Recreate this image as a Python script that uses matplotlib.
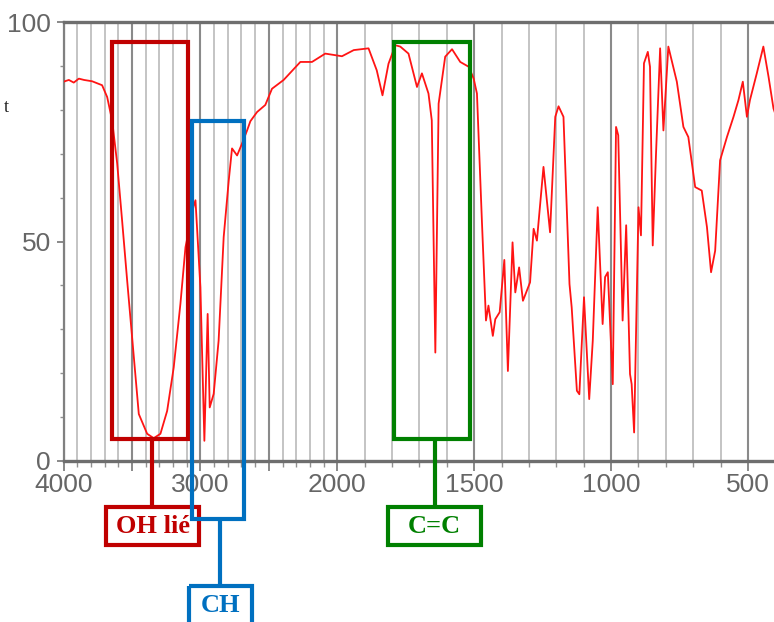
import numpy as np
import matplotlib
matplotlib.use("Agg")
import matplotlib.pyplot as plt
from matplotlib.patches import Rectangle
from matplotlib.lines import Line2D
from matplotlib.ticker import FixedLocator, FixedFormatter

# ---- data ----
wavenumber = [4000, 3961, 3925, 3888, 3850, 3791, 3718, 3681, 3645, 3608, 3572, 3535,
              3499, 3450, 3389, 3341, 3292, 3243, 3195, 3146, 3109, 3085, 3050, 3036,
              3000, 2971, 2947, 2932, 2903, 2867, 2830, 2793, 2769, 2732, 2696, 2659,
              2635, 2586, 2526, 2477, 2392, 2270, 2185, 2088, 1983, 1940, 1886, 1856,
              1835, 1813, 1788, 1770, 1740, 1709, 1691, 1667, 1655, 1642, 1630, 1606,
              1581, 1551, 1520, 1502, 1490, 1472, 1457, 1448, 1432, 1423, 1407, 1390,
              1377, 1360, 1350, 1336, 1322, 1296, 1283, 1271, 1247, 1223, 1204, 1192,
              1174, 1152, 1144, 1125, 1116, 1099, 1080, 1067, 1049, 1031, 1022, 1012,
              994, 982, 974, 958, 945, 931, 925, 916, 900, 891, 880, 866, 858, 848,
              836, 821, 809, 791, 760, 736, 718, 693, 669, 650, 635, 620, 602, 577,
              553, 535, 519, 504, 493, 468, 444, 425, 407, 400]
transmittance = [86.4, 86.8, 86.2, 87.1, 86.8, 86.5, 85.6, 82.9, 77.6, 67.8, 54.8, 41.1,
                 28.2, 10.7, 6.2, 5.2, 6.2, 11.4, 21.3, 35.8, 48.7, 52.5, 58.0, 59.4,
                 39.6, 4.6, 33.5, 12.2, 15.3, 27.4, 51.0, 63.9, 71.2, 69.6, 72.3, 75.3,
                 77.4, 79.5, 81.1, 84.8, 86.8, 90.9, 90.9, 92.8, 92.2, 93.6, 94.0, 89.0,
                 83.3, 90.5, 94.7, 94.4, 92.8, 85.2, 88.3, 83.7, 77.6, 24.7, 81.4, 92.1,
                 93.8, 90.9, 89.8, 87.1, 83.7, 54.8, 32.0, 35.4, 28.5, 32.3, 33.9, 45.8,
                 20.5, 49.8, 38.4, 44.1, 36.5, 40.7, 52.9, 50.2, 67.0, 52.1, 78.4, 80.8,
                 78.4, 40.3, 35.0, 16.0, 15.2, 37.3, 14.1, 27.4, 57.8, 31.2, 41.9, 43.0,
                 17.5, 76.1, 74.2, 32.0, 53.7, 19.8, 17.5, 6.5, 57.8, 51.4, 90.6, 93.2, 89.8, 49.1,
                 70.0, 94.0, 75.3, 94.4, 86.4, 76.1, 73.8, 62.4, 61.6, 53.3, 43.0, 47.9, 68.5, 73.8,
                 78.4, 82.2, 86.4, 78.4, 82.2, 88.3, 94.4, 87.5, 80.3, 79.0]

x_tick_values = [4000, 3500, 3000, 2500, 2000, 1500, 1000, 500]
x_tick_labels = ["4000", "", "3000", "", "2000", "1500", "1000", "500"]
y_tick_values = [0, 50, 100]
y_tick_labels = ["0", "50", "100"]

band_labels = ["OH lié", "CH", "C=C"]

# ---- figure ----
W, H = 774, 622
fig = plt.figure(figsize=(W / 100, H / 100), dpi=100)
ax = fig.add_axes([63.5 / W, 1 - 461 / H, (775.4 - 63.5) / W, (461 - 22) / H])


def fwd(w):
    w = np.asarray(w, dtype=float)
    return np.where(w >= 2000, w, 2 * w - 2000)


def inv(u):
    u = np.asarray(u, dtype=float)
    return np.where(u >= 2000, u, (u + 2000) / 2)


ax.set_xscale("function", functions=(fwd, inv))
ax.set_xlim(4000, 400)
ax.set_ylim(0, 100)

ax.plot(wavenumber, transmittance, color="#ff1414", lw=1.3, zorder=3,
        solid_joinstyle="round")

# ticks and grid
ax.xaxis.set_major_locator(FixedLocator(x_tick_values))
ax.xaxis.set_major_formatter(FixedFormatter(x_tick_labels))
ax.xaxis.set_minor_locator(FixedLocator(np.arange(500, 4000, 100)))
ax.yaxis.set_major_locator(FixedLocator(y_tick_values))
ax.yaxis.set_major_formatter(FixedFormatter(y_tick_labels))
ax.yaxis.set_minor_locator(FixedLocator(np.arange(10, 100, 10)))

ax.grid(which="minor", axis="x", color="#b4b4b4", lw=1.1, zorder=1)
ax.grid(which="major", axis="x", color="#8a8a8a", lw=1.5, zorder=1)
ax.grid(which="both", axis="y", visible=False)

tick_font = dict(family="Liberation Sans", size=19)
for lab in ax.get_xticklabels() + ax.get_yticklabels():
    lab.set_fontfamily("Liberation Sans")
    lab.set_fontsize(19)
    lab.set_color("#666666")
ax.tick_params(axis="x", which="major", direction="out", length=7, width=1.3,
               color="#808080", pad=2)
ax.tick_params(axis="x", which="minor", direction="out", length=4, width=1.0,
               color="#909090")
ax.tick_params(axis="y", which="major", direction="out", length=5, width=1.3,
               color="#808080", pad=4)
ax.tick_params(axis="y", which="minor", direction="out", length=3, width=1.0,
               color="#909090")

for side in ["top", "bottom"]:
    ax.spines[side].set_color("#6e6e6e")
    ax.spines[side].set_linewidth(2.4)
ax.spines["left"].set_color("#808080")
ax.spines["left"].set_linewidth(1.6)
ax.spines["right"].set_visible(False)

# ---- annotations (data coordinates, outside the axes allowed) ----
red, blue, green = "#c00000", "#0070c0", "#008000"
lw_box = 3.0


def rect(x0, x1, y0, y1, color):
    r = Rectangle((x0, y0), x1 - x0, y1 - y0, fill=False, edgecolor=color,
                  lw=lw_box, clip_on=False, zorder=5, joinstyle="miter")
    ax.add_patch(r)


def vline(x, y0, y1, color):
    ax.add_line(Line2D([x, x], [y0, y1], color=color, lw=lw_box, clip_on=False,
                       zorder=5, solid_capstyle="butt"))


label_font = dict(family="Liberation Serif", weight="bold", size=19)

# OH lié
rect(3645, 3090, 5.0, 95.4, red)
vline(3353, 5.0, -10.5, red)
rect(3689, 3009, -10.5, -19.1, red)
ax.text(3349, -14.9, band_labels[0], color=red, ha="center", va="center",
        clip_on=False, zorder=6, **label_font)

# CH
rect(3060, 2680, -13.2, 77.4, blue)
vline(2859, -13.2, -28.5, blue)
rect(3082, 2622, -28.5, -40.0, blue)
ax.text(2852, -33.0, band_labels[1], color=blue, ha="center", va="center",
        clip_on=False, zorder=6, **label_font)

# C=C
rect(1792, 1515, 5.0, 95.4, green)
vline(1644, 5.0, -10.5, green)
rect(1814, 1474, -10.5, -19.1, green)
ax.text(1645, -14.9, band_labels[2], color=green, ha="center", va="center",
        clip_on=False, zorder=6, **label_font)

# cropped fragment of a side label at the far left edge
fig.text(9 / W, 1 - 107 / H, "t", family="Liberation Serif", size=13,
         ha="right", va="center", color="#222222")

fig.savefig("out.png", dpi=100)
